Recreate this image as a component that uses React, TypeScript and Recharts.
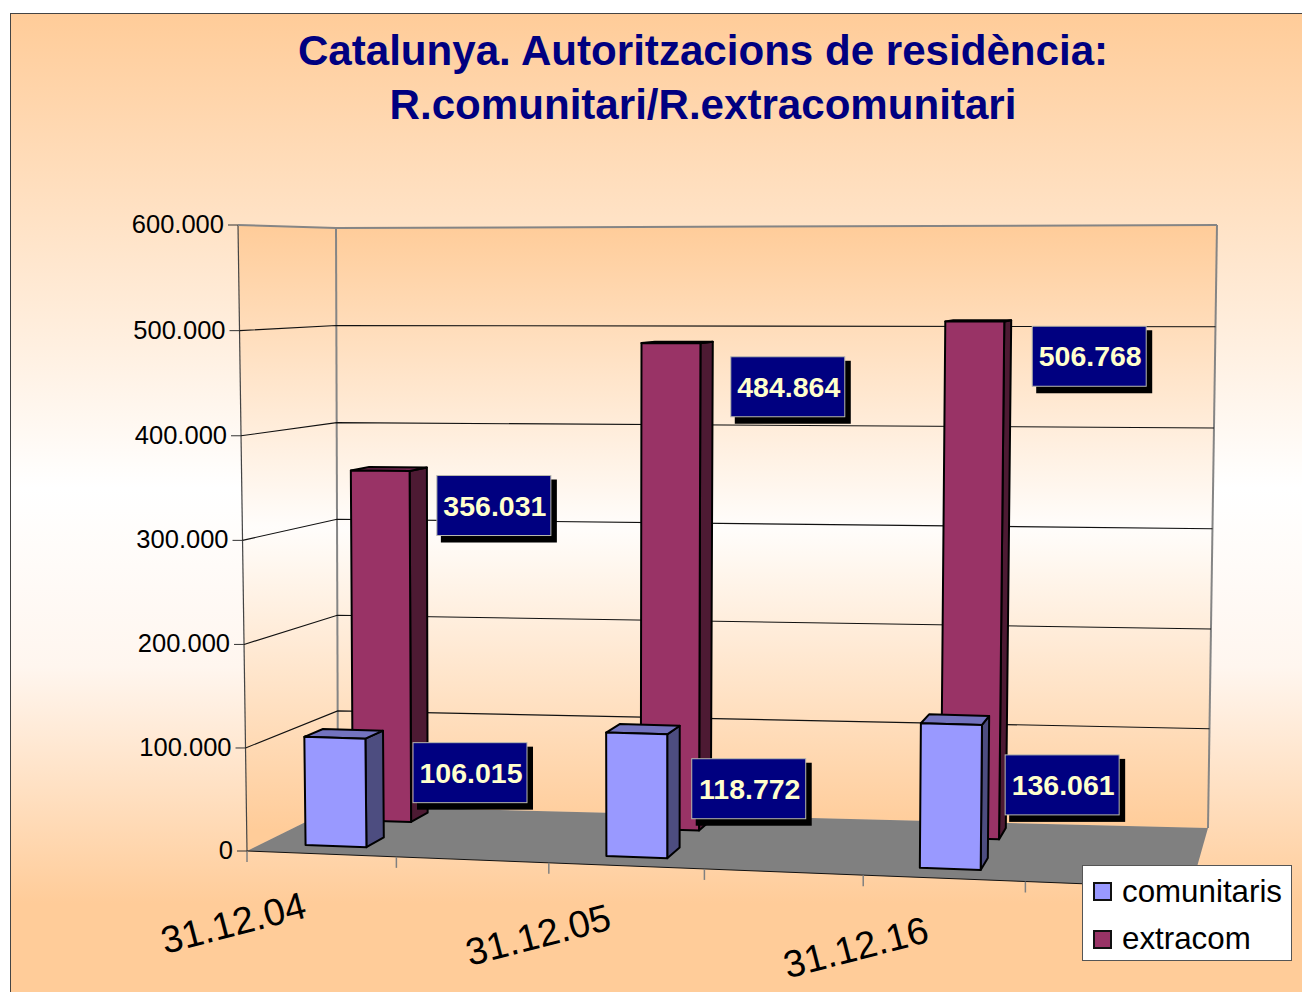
import React from 'react';
import { BarChart, Bar, XAxis, YAxis, CartesianGrid, LabelList, Legend } from 'recharts';

const categories = ['31.12.04', '', '31.12.05', '', '31.12.16', ''];
const comunitaris = [106015, null, 118772, null, 136061, null];
const extracom = [356031, null, 484864, null, 506768, null];
const yTicks = [0, 100000, 200000, 300000, 400000, 500000, 600000];

const data = categories.map((name, i) => ({
  name,
  comunitaris: comunitaris[i],
  extracom: extracom[i],
}));

// flat plot area the recharts scales work in, it gets projected on the 3d box afterwards
const PLOT = { left: 100, top: 100, width: 1102, height: 792 };
const PLOT_BOTTOM = PLOT.top + PLOT.height;

// box corners on screen: [x, y] for left/right, bottom/top, front/back
const FRONT = { lb: [247, 851], lt: [238, 225], rb: [1191, 888], rt: [1201, 222] };
const BACK = { lb: [338, 806], lt: [336, 228], rb: [1208, 828], rt: [1217, 225] };
const PERSPECTIVE = 0.94;
const PERSPECTIVE_V = 0.985;

const lerp = (a: number, b: number, t: number) => a + (b - a) * t;

const project = (px: number, py: number, z: number) => {
  const t = (px - PLOT.left) / PLOT.width;
  const u = (PERSPECTIVE * t) / (1 - (1 - PERSPECTIVE) * t);
  const w = (PLOT_BOTTOM - py) / PLOT.height;
  const v = (PERSPECTIVE_V * w) / (1 - (1 - PERSPECTIVE_V) * w);
  const at = (i: number) => {
    const f = lerp(lerp(FRONT.lb[i], FRONT.rb[i], u), lerp(FRONT.lt[i], FRONT.rt[i], u), v);
    const b = lerp(lerp(BACK.lb[i], BACK.rb[i], u), lerp(BACK.lt[i], BACK.rt[i], u), v);
    return lerp(f, b, z);
  };
  return [at(0), at(1)];
};

// the bars keep one screen width across the chart, undo the x perspective on their width
const flatEdges = (x: number, width: number) => {
  const cx = x + width / 2;
  const t = (cx - PLOT.left) / PLOT.width;
  const half = ((width / 2) * (1 - (1 - PERSPECTIVE) * t) ** 2) / PERSPECTIVE;
  return [cx - half, cx + half];
};

const pts = (list: number[][]) => list.map((p) => p.join(',')).join(' ');
const formatNumber = (n: number) => String(n).replace(/\B(?=(\d{3})+$)/g, '.');

const comunitarisStyle = { z0: 0.17, z1: 0.38, front: '#9999ff', side: '#4d4d80', top: '#7373bf' };
const extracomStyle = { z0: 0.71, z1: 0.91, front: '#993366', side: '#4d1a33', top: '#732650' };

// label box offset from the top back corner of its bar, one per drawn bar
const comunitarisNudge = [[30, 12], [12, 33], [16, 39]];
const extracomNudge = [[10, 8], [18, 15], [21, 6]];

const boxShape = (s: typeof comunitarisStyle) => (props: any) => {
  const { x, y, width, height } = props;
  if (!height) return <g />;
  const [l, r] = flatEdges(x, width);
  const b = y + height;
  const flb = project(l, b, s.z0);
  const frb = project(r, b, s.z0);
  const flt = project(l, y, s.z0);
  const frt = project(r, y, s.z0);
  const brb = project(r, b, s.z1);
  const blt = project(l, y, s.z1);
  const brt = project(r, y, s.z1);
  const line = { stroke: '#000', strokeWidth: 2, strokeLinejoin: 'round' as const };
  return (
    <g>
      <polygon points={pts([frb, brb, brt, frt])} fill={s.side} {...line} />
      <polygon points={pts([flt, frt, brt, blt])} fill={s.top} {...line} />
      <polygon points={pts([flb, frb, frt, flt])} fill={s.front} {...line} />
    </g>
  );
};

const boxLabel = (s: typeof comunitarisStyle, series: (number | null)[], nudge: number[][]) => (props: any) => {
  const { x, y, width, value } = props;
  if (value == null) return null;
  const [, r] = flatEdges(x, width);
  const [ax, ay] = project(r, y, s.z1);
  const [nx, ny] = nudge[series.filter((v) => v != null).indexOf(value)];
  const left = ax + nx;
  const top = ay + ny;
  return (
    <g>
      <rect x={left + 4} y={top + 4} width={116} height={63} fill="#000" />
      <rect x={left} y={top} width={114} height={60} fill="#000080" stroke="#b9b9ae" strokeWidth={1} />
      <text
        x={left + 58}
        y={top + 30}
        textAnchor="middle"
        dominantBaseline="central"
        fontFamily="Liberation Sans"
        fontWeight="bold"
        fontSize={28.5}
        fill="#ffffcc"
      >
        {formatNumber(value)}
      </text>
    </g>
  );
};

const gridLine = (props: any) => {
  const { y1 } = props;
  const key = `grid-${y1}`;
  const lf = project(PLOT.left, y1, 0);
  const lb = project(PLOT.left, y1, 1);
  const rb = project(PLOT.left + PLOT.width, y1, 1);
  if (y1 >= PLOT_BOTTOM - 1) {
    const rf = project(PLOT.left + PLOT.width, y1, 0);
    return <line key={key} x1={lf[0]} y1={lf[1]} x2={rf[0]} y2={rf[1]} stroke="#111" strokeWidth={1} />;
  }
  const isTop = y1 <= PLOT.top + 1;
  return (
    <polyline
      key={key}
      points={pts([lf, lb, rb])}
      fill="none"
      stroke={isTop ? '#858585' : '#111'}
      strokeWidth={isTop ? 2 : 1.1}
    />
  );
};

const yTick = (props: any) => {
  const { y, payload } = props;
  const [ax, ay] = project(PLOT.left, y, 0);
  return (
    <g>
      <line x1={ax - 10} y1={ay} x2={ax} y2={ay} stroke="#333" strokeWidth={1} />
      <text x={ax - 14} y={ay - 1} textAnchor="end" dominantBaseline="central" fontFamily="Liberation Sans" fontSize={25.5} fill="#000">
        {formatNumber(payload.value)}
      </text>
    </g>
  );
};

const xTick = (props: any) => {
  const { x, payload } = props;
  const boundary = project(x - PLOT.width / categories.length / 2, PLOT_BOTTOM, 0);
  const [cx, cy] = project(x, PLOT_BOTTOM, 0);
  const lx = cx - 88;
  const ly = cy + 69;
  return (
    <g>
      <line x1={boundary[0]} y1={boundary[1]} x2={boundary[0]} y2={boundary[1] + 11} stroke="#808080" strokeWidth={1.5} />
      {payload.value ? (
        <text x={lx} y={ly} textAnchor="middle" dominantBaseline="central" fontFamily="Liberation Sans" fontSize={38} fill="#000" transform={`rotate(-14.5 ${lx} ${ly})`}>
          {payload.value}
        </text>
      ) : null}
    </g>
  );
};

const legendContent = (props: any) => (
  <div
    style={{
      width: 210,
      height: 96,
      boxSizing: 'border-box',
      background: '#fff',
      border: '1px solid #555',
      fontFamily: 'Liberation Sans',
      fontSize: 31.3,
      color: '#000',
      paddingTop: 2,
    }}
  >
    {props.payload.map((item: any) => (
      <div key={item.value} style={{ display: 'flex', alignItems: 'center', height: 47.5, paddingLeft: 10 }}>
        <span style={{ width: 15, height: 15, marginRight: 10, background: item.color, border: '2px solid #111' }} />
        {item.value}
      </div>
    ))}
  </div>
);

// walls and floor sit behind the transparent chart
const Room = () => (
  <svg width={1302} height={992} style={{ position: 'absolute', left: 0, top: 0 }}>
    <defs>
      <linearGradient id="wall" gradientUnits="userSpaceOnUse" x1="0" y1="225" x2="0" y2="830">
        <stop offset="0" stopColor="#ffcc99" />
        <stop offset="0.5" stopColor="#fffdfb" />
        <stop offset="1" stopColor="#ffcc99" />
      </linearGradient>
    </defs>
    <polygon points={pts([FRONT.lb, FRONT.lt, BACK.lt, BACK.lb])} fill="url(#wall)" />
    <polygon points={pts([BACK.lb, BACK.lt, BACK.rt, BACK.rb])} fill="url(#wall)" />
    <polygon points={pts([FRONT.lb, BACK.lb, BACK.rb, FRONT.rb])} fill="#808080" />
    <line x1={FRONT.lb[0]} y1={FRONT.lb[1]} x2={FRONT.lt[0]} y2={FRONT.lt[1]} stroke="#444" strokeWidth={1.2} />
    <line x1={BACK.lb[0]} y1={BACK.lb[1]} x2={BACK.lt[0]} y2={BACK.lt[1]} stroke="#858585" strokeWidth={2} />
    <line x1={BACK.rb[0]} y1={BACK.rb[1]} x2={BACK.rt[0]} y2={BACK.rt[1]} stroke="#858585" strokeWidth={2} />
  </svg>
);

export default function App() {
  return (
    <div style={{ position: 'absolute', left: 0, top: 0, width: 1302, height: 992, background: '#fff', overflow: 'hidden' }}>
      <div
        style={{
          position: 'absolute',
          left: 10,
          top: 13,
          width: 1300,
          height: 990,
          boxSizing: 'border-box',
          border: '1px solid #444',
          background: 'linear-gradient(180deg, #ffcc99 0%, #ffffff 48%, #fff6ef 66%, #ffcc99 90%, #ffcc99 100%)',
        }}
      />
      <Room />
      <div
        style={{
          position: 'absolute',
          left: 0,
          top: 24,
          width: 1406,
          textAlign: 'center',
          fontFamily: 'Liberation Sans',
          fontWeight: 'bold',
          fontSize: 42.1,
          lineHeight: '54px',
          color: '#000080',
        }}
      >
        Catalunya. Autoritzacions de residència:
        <br />
        R.comunitari/R.extracomunitari
      </div>
      <div style={{ position: 'absolute', left: 0, top: 0 }}>
        <BarChart
          width={1302}
          height={992}
          data={data}
          margin={{ top: PLOT.top, right: 100, left: 40, bottom: 60 }}
          barSize={72}
          barGap={-72}
        >
          <CartesianGrid horizontal={gridLine} vertical={false} />
          <XAxis dataKey="name" height={40} axisLine={false} tickLine={false} interval={0} tick={xTick} />
          <YAxis width={60} domain={[0, 600000]} ticks={yTicks} axisLine={false} tickLine={false} tick={yTick} />
          <Legend
            layout="vertical"
            align="center"
            verticalAlign="middle"
            content={legendContent}
            wrapperStyle={{ position: 'absolute', left: 1082, top: 865, width: 210, height: 96 }}
          />
          <Bar dataKey="extracom" fill="#993366" isAnimationActive={false} shape={boxShape(extracomStyle)}>
            <LabelList dataKey="extracom" content={boxLabel(extracomStyle, extracom, extracomNudge)} />
          </Bar>
          <Bar dataKey="comunitaris" fill="#9999ff" isAnimationActive={false} shape={boxShape(comunitarisStyle)}>
            <LabelList dataKey="comunitaris" content={boxLabel(comunitarisStyle, comunitaris, comunitarisNudge)} />
          </Bar>
        </BarChart>
      </div>
    </div>
  );
}
